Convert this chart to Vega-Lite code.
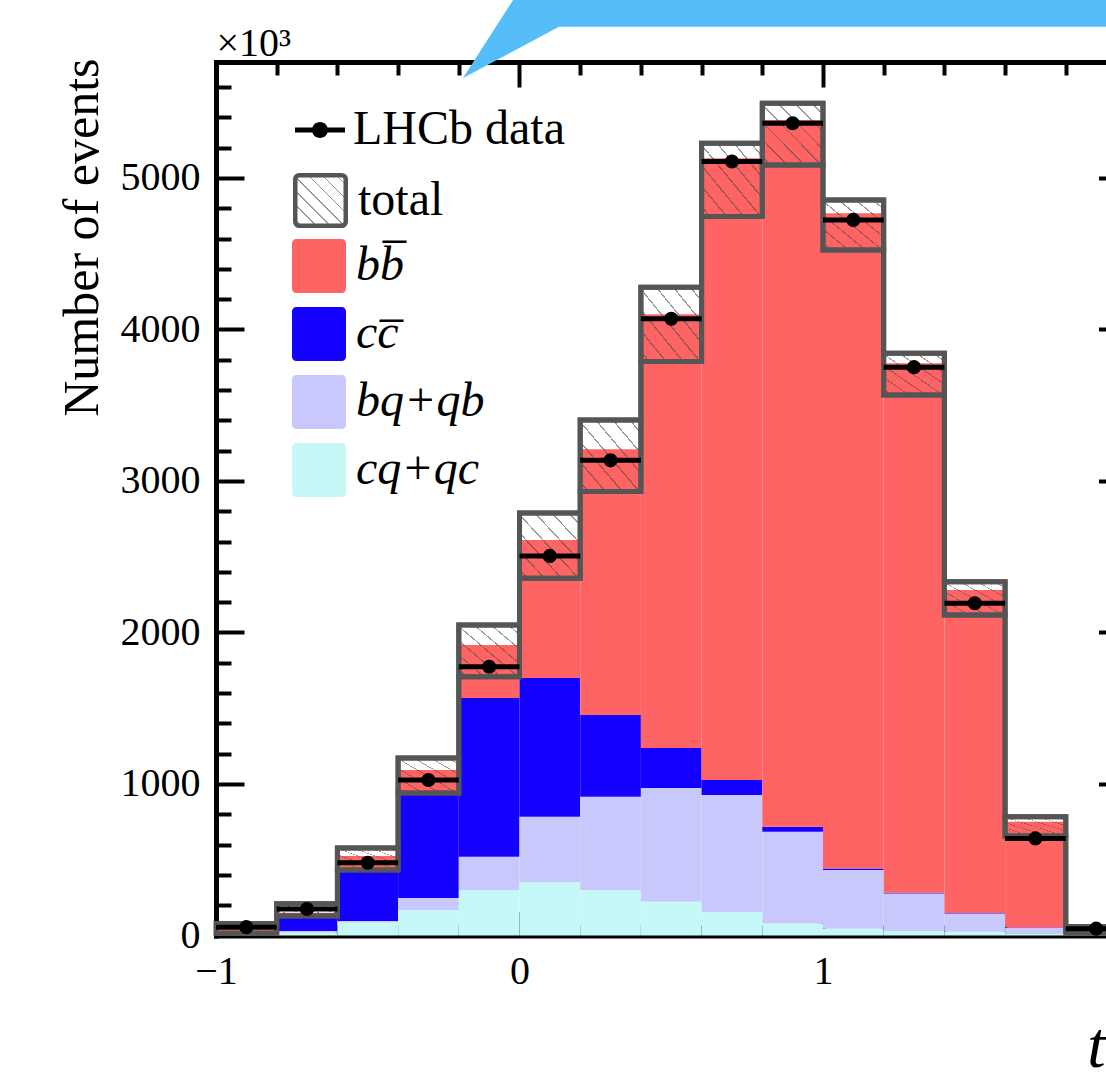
{
  "$schema": "https://vega.github.io/schema/vega-lite/v6.json",
  "autosize": {"type": "none"},
  "padding": {"left": 216, "top": 62, "right": 0, "bottom": 148.5},
  "width": 890,
  "height": 873.5,
  "background": "white",
  "datasets": {
    "components": [
      {"t_lo": -1.0, "t_hi": -0.8, "process": "cq+qc", "n": 0},
      {"t_lo": -1.0, "t_hi": -0.8, "process": "bq+qb", "n": 0},
      {"t_lo": -1.0, "t_hi": -0.8, "process": "cc\u0305", "n": 0},
      {"t_lo": -1.0, "t_hi": -0.8, "process": "bb\u0305", "n": 40},
      {"t_lo": -0.8, "t_hi": -0.6, "process": "cq+qc", "n": 20},
      {"t_lo": -0.8, "t_hi": -0.6, "process": "bq+qb", "n": 10},
      {"t_lo": -0.8, "t_hi": -0.6, "process": "cc\u0305", "n": 85},
      {"t_lo": -0.8, "t_hi": -0.6, "process": "bb\u0305", "n": 35},
      {"t_lo": -0.6, "t_hi": -0.4, "process": "cq+qc", "n": 85},
      {"t_lo": -0.6, "t_hi": -0.4, "process": "bq+qb", "n": 10},
      {"t_lo": -0.6, "t_hi": -0.4, "process": "cc\u0305", "n": 330},
      {"t_lo": -0.6, "t_hi": -0.4, "process": "bb\u0305", "n": 100},
      {"t_lo": -0.4, "t_hi": -0.2, "process": "cq+qc", "n": 168},
      {"t_lo": -0.4, "t_hi": -0.2, "process": "bq+qb", "n": 80},
      {"t_lo": -0.4, "t_hi": -0.2, "process": "cc\u0305", "n": 687},
      {"t_lo": -0.4, "t_hi": -0.2, "process": "bb\u0305", "n": 157},
      {"t_lo": -0.2, "t_hi": 0.0, "process": "cq+qc", "n": 300},
      {"t_lo": -0.2, "t_hi": 0.0, "process": "bq+qb", "n": 220},
      {"t_lo": -0.2, "t_hi": 0.0, "process": "cc\u0305", "n": 1048},
      {"t_lo": -0.2, "t_hi": 0.0, "process": "bb\u0305", "n": 349},
      {"t_lo": 0.0, "t_hi": 0.2, "process": "cq+qc", "n": 352},
      {"t_lo": 0.0, "t_hi": 0.2, "process": "bq+qb", "n": 432},
      {"t_lo": 0.0, "t_hi": 0.2, "process": "cc\u0305", "n": 916},
      {"t_lo": 0.0, "t_hi": 0.2, "process": "bb\u0305", "n": 910},
      {"t_lo": 0.2, "t_hi": 0.4, "process": "cq+qc", "n": 300},
      {"t_lo": 0.2, "t_hi": 0.4, "process": "bq+qb", "n": 615},
      {"t_lo": 0.2, "t_hi": 0.4, "process": "cc\u0305", "n": 540},
      {"t_lo": 0.2, "t_hi": 0.4, "process": "bb\u0305", "n": 1755},
      {"t_lo": 0.4, "t_hi": 0.6, "process": "cq+qc", "n": 223},
      {"t_lo": 0.4, "t_hi": 0.6, "process": "bq+qb", "n": 751},
      {"t_lo": 0.4, "t_hi": 0.6, "process": "cc\u0305", "n": 264},
      {"t_lo": 0.4, "t_hi": 0.6, "process": "bb\u0305", "n": 2862},
      {"t_lo": 0.6, "t_hi": 0.8, "process": "cq+qc", "n": 155},
      {"t_lo": 0.6, "t_hi": 0.8, "process": "bq+qb", "n": 772},
      {"t_lo": 0.6, "t_hi": 0.8, "process": "cc\u0305", "n": 99},
      {"t_lo": 0.6, "t_hi": 0.8, "process": "bb\u0305", "n": 4104},
      {"t_lo": 0.8, "t_hi": 1.0, "process": "cq+qc", "n": 80},
      {"t_lo": 0.8, "t_hi": 1.0, "process": "bq+qb", "n": 605},
      {"t_lo": 0.8, "t_hi": 1.0, "process": "cc\u0305", "n": 33},
      {"t_lo": 0.8, "t_hi": 1.0, "process": "bb\u0305", "n": 4665},
      {"t_lo": 1.0, "t_hi": 1.2, "process": "cq+qc", "n": 45},
      {"t_lo": 1.0, "t_hi": 1.2, "process": "bq+qb", "n": 387},
      {"t_lo": 1.0, "t_hi": 1.2, "process": "cc\u0305", "n": 11},
      {"t_lo": 1.0, "t_hi": 1.2, "process": "bb\u0305", "n": 4324},
      {"t_lo": 1.2, "t_hi": 1.4, "process": "cq+qc", "n": 30},
      {"t_lo": 1.2, "t_hi": 1.4, "process": "bq+qb", "n": 248},
      {"t_lo": 1.2, "t_hi": 1.4, "process": "cc\u0305", "n": 4},
      {"t_lo": 1.2, "t_hi": 1.4, "process": "bb\u0305", "n": 3495},
      {"t_lo": 1.4, "t_hi": 1.6, "process": "cq+qc", "n": 25},
      {"t_lo": 1.4, "t_hi": 1.6, "process": "bq+qb", "n": 121},
      {"t_lo": 1.4, "t_hi": 1.6, "process": "cc\u0305", "n": 2},
      {"t_lo": 1.4, "t_hi": 1.6, "process": "bb\u0305", "n": 2132},
      {"t_lo": 1.6, "t_hi": 1.8, "process": "cq+qc", "n": 15},
      {"t_lo": 1.6, "t_hi": 1.8, "process": "bq+qb", "n": 35},
      {"t_lo": 1.6, "t_hi": 1.8, "process": "cc\u0305", "n": 2},
      {"t_lo": 1.6, "t_hi": 1.8, "process": "bb\u0305", "n": 699},
      {"t_lo": 1.8, "t_hi": 2.0, "process": "cq+qc", "n": 5},
      {"t_lo": 1.8, "t_hi": 2.0, "process": "bq+qb", "n": 3},
      {"t_lo": 1.8, "t_hi": 2.0, "process": "cc\u0305", "n": 2},
      {"t_lo": 1.8, "t_hi": 2.0, "process": "bb\u0305", "n": 30}
    ],
    "bins": [
      {"t": -0.9, "t_lo": -1.0, "t_hi": -0.8, "data": 55, "band_lo": 15, "band_hi": 80},
      {"t": -0.7, "t_lo": -0.8, "t_hi": -0.6, "data": 175, "band_lo": 128, "band_hi": 210},
      {"t": -0.5, "t_lo": -0.6, "t_hi": -0.4, "data": 480, "band_lo": 433, "band_hi": 578},
      {"t": -0.3, "t_lo": -0.4, "t_hi": -0.2, "data": 1026, "band_lo": 940, "band_hi": 1172},
      {"t": -0.1, "t_lo": -0.2, "t_hi": 0.0, "data": 1774, "band_lo": 1708, "band_hi": 2049},
      {"t": 0.1, "t_lo": 0.0, "t_hi": 0.2, "data": 2505, "band_lo": 2358, "band_hi": 2788},
      {"t": 0.3, "t_lo": 0.2, "t_hi": 0.4, "data": 3136, "band_lo": 2930, "band_hi": 3403},
      {"t": 0.5, "t_lo": 0.4, "t_hi": 0.6, "data": 4070, "band_lo": 3788, "band_hi": 4278},
      {"t": 0.7, "t_lo": 0.6, "t_hi": 0.8, "data": 5108, "band_lo": 4745, "band_hi": 5229},
      {"t": 0.9, "t_lo": 0.8, "t_hi": 1.0, "data": 5361, "band_lo": 5086, "band_hi": 5493},
      {"t": 1.1, "t_lo": 1.0, "t_hi": 1.2, "data": 4723, "band_lo": 4525, "band_hi": 4855},
      {"t": 1.3, "t_lo": 1.2, "t_hi": 1.4, "data": 3751, "band_lo": 3568, "band_hi": 3843},
      {"t": 1.5, "t_lo": 1.4, "t_hi": 1.6, "data": 2193, "band_lo": 2115, "band_hi": 2335},
      {"t": 1.7, "t_lo": 1.6, "t_hi": 1.8, "data": 641, "band_lo": 657, "band_hi": 784},
      {"t": 1.9, "t_lo": 1.8, "t_hi": 2.0, "data": 45, "band_lo": 15, "band_hi": 60}
    ],
    "callout": [
      {"cx": -0.186, "lo": 5660, "hi": 5660},
      {"cx": -0.0128, "lo": 5844, "hi": 6200},
      {"cx": 0.13, "lo": 5997, "hi": 6200},
      {"cx": 2.1, "lo": 5997, "hi": 6200}
    ]
  },
  "layer": [
    {
      "data": {"name": "components"},
      "transform": [{"stack": "n", "groupby": ["t_lo"], "as": ["n0", "n1"]}],
      "mark": {"type": "rect"},
      "encoding": {
        "x": {"field": "t_lo", "type": "quantitative", "scale": {"domain": [-1, 1.9325], "nice": false, "zero": false},
          "axis": {"orient": "bottom", "values": [-1, 0, 1], "format": "d", "ticks": false, "tickSize": 0, "domain": true, "domainWidth": 5, "domainCap": "square", "labelFontSize": 40, "labelPadding": 16, "labelFlush": false, "labelOverlap": false, "labelBound": false,
            "title": "t", "titleFontStyle": "italic", "titleFontSize": 66, "titleX": 889, "titleY": 130.5, "titleAlign": "right", "titleBaseline": "alphabetic", "titleAngle": 0}},
        "x2": {"field": "t_hi"},
        "y": {"field": "n0", "type": "quantitative", "scale": {"domain": [0, 5765], "nice": false, "zero": false},
          "axis": {"orient": "left", "values": [0, 1000, 2000, 3000, 4000, 5000], "format": "d", "ticks": false, "tickSize": 0, "domain": true, "domainWidth": 5, "domainCap": "square", "labelFontSize": 40, "labelPadding": 16, "labelFlush": false, "labelOverlap": false, "labelBound": false,
            "title": "Number of events", "titleFontSize": 50, "titleAngle": -90, "titleX": -119, "titleY": -4, "titleAlign": "right", "titleBaseline": "alphabetic"}},
        "y2": {"field": "n1"},
        "fill": {"field": "process", "type": "nominal",
          "scale": {"domain": ["bb\u0305", "cc\u0305", "bq+qb", "cq+qc"], "range": ["#FE6464", "#1400FF", "#C8C8FC", "#C6F8F8"]},
          "legend": {"orient": "none", "legendX": 76, "legendY": 177, "title": null,
            "symbolType": "M-0.84,-1H0.84A0.16,0.16,0,0,1,1,-0.84V0.84A0.16,0.16,0,0,1,0.84,1H-0.84A0.16,0.16,0,0,1,-1,0.84V-0.84A0.16,0.16,0,0,1,-0.84,-1Z",
            "symbolSize": 2916, "symbolStrokeWidth": 0, "labelFontStyle": "italic", "labelFontSize": 48, "labelOffset": 10, "rowPadding": 14, "padding": 0, "labelLimit": 400}}
      }
    },
    {
      "data": {"name": "bins"},
      "mark": {"type": "rect", "strokeWidth": 5, "strokeJoin": "miter",
        "fill": {"gradient": "linear", "x1": 0, "y1": 1, "x2": 1, "y2": 0, "stops": [
          {"offset": 0, "color": "rgba(255,255,255,0)"},
          {"offset": 0.06, "color": "rgba(255,255,255,0)"}, {"offset": 0.06, "color": "rgba(70,70,70,0.55)"}, {"offset": 0.074, "color": "rgba(70,70,70,0.55)"}, {"offset": 0.074, "color": "rgba(255,255,255,0)"},
          {"offset": 0.2, "color": "rgba(255,255,255,0)"}, {"offset": 0.2, "color": "rgba(70,70,70,0.55)"}, {"offset": 0.214, "color": "rgba(70,70,70,0.55)"}, {"offset": 0.214, "color": "rgba(255,255,255,0)"},
          {"offset": 0.34, "color": "rgba(255,255,255,0)"}, {"offset": 0.34, "color": "rgba(70,70,70,0.55)"}, {"offset": 0.354, "color": "rgba(70,70,70,0.55)"}, {"offset": 0.354, "color": "rgba(255,255,255,0)"},
          {"offset": 0.48, "color": "rgba(255,255,255,0)"}, {"offset": 0.48, "color": "rgba(70,70,70,0.55)"}, {"offset": 0.494, "color": "rgba(70,70,70,0.55)"}, {"offset": 0.494, "color": "rgba(255,255,255,0)"},
          {"offset": 0.62, "color": "rgba(255,255,255,0)"}, {"offset": 0.62, "color": "rgba(70,70,70,0.55)"}, {"offset": 0.634, "color": "rgba(70,70,70,0.55)"}, {"offset": 0.634, "color": "rgba(255,255,255,0)"},
          {"offset": 0.76, "color": "rgba(255,255,255,0)"}, {"offset": 0.76, "color": "rgba(70,70,70,0.55)"}, {"offset": 0.774, "color": "rgba(70,70,70,0.55)"}, {"offset": 0.774, "color": "rgba(255,255,255,0)"},
          {"offset": 0.9, "color": "rgba(255,255,255,0)"}, {"offset": 0.9, "color": "rgba(70,70,70,0.55)"}, {"offset": 0.914, "color": "rgba(70,70,70,0.55)"}, {"offset": 0.914, "color": "rgba(255,255,255,0)"},
          {"offset": 1, "color": "rgba(255,255,255,0)"}
        ]}},
      "encoding": {
        "x": {"field": "t_lo", "type": "quantitative", "scale": {"domain": [-1, 1.9325], "nice": false, "zero": false},
          "axis": {"orient": "bottom", "values": [-1, 0, 1], "labels": false, "domain": false, "ticks": true, "tickSize": -24, "tickWidth": 4, "title": null}},
        "x2": {"field": "t_hi"},
        "y": {"field": "band_lo", "type": "quantitative", "scale": {"domain": [0, 5765], "nice": false, "zero": false},
          "axis": {"orient": "left", "values": [1000, 2000, 3000, 4000, 5000], "labels": false, "domain": false, "ticks": true, "tickSize": -28, "tickWidth": 4,
            "title": "×10³", "titleAngle": 0, "titleX": 0, "titleY": -7, "titleAlign": "left", "titleBaseline": "alphabetic", "titleFontSize": 40}},
        "y2": {"field": "band_hi"},
        "stroke": {"datum": "total", "type": "nominal", "scale": {"range": ["#555555"]},
          "legend": {"orient": "none", "legendX": 77, "legendY": 111, "title": null,
            "symbolType": "M-0.84,-1H0.84A0.16,0.16,0,0,1,1,-0.84V0.84A0.16,0.16,0,0,1,0.84,1H-0.84A0.16,0.16,0,0,1,-1,0.84V-0.84A0.16,0.16,0,0,1,-0.84,-1Z",
            "symbolSize": 2550, "symbolStrokeWidth": 4.5, "symbolFillColor": "white", "labelFontSize": 48, "labelOffset": 10, "padding": 0, "labelLimit": 400}}
      }
    },
    {
      "data": {"name": "bins"},
      "mark": {"type": "line", "interpolate": "step-after", "color": "#555555", "strokeWidth": 5, "strokeJoin": "miter"},
      "encoding": {
        "x": {"field": "t_lo", "type": "quantitative", "scale": {"domain": [-1, 1.9325], "nice": false, "zero": false},
          "axis": {"orient": "bottom", "values": [-0.8, -0.6, -0.4, -0.2, 0.2, 0.4, 0.6, 0.8, 1.2, 1.4, 1.6, 1.8], "labels": false, "domain": false, "ticks": true, "tickSize": -11, "tickWidth": 4, "title": null}},
        "y": {"field": "band_hi", "type": "quantitative", "scale": {"domain": [0, 5765], "nice": false, "zero": false},
          "axis": {"orient": "left", "values": [200, 400, 600, 800, 1200, 1400, 1600, 1800, 2200, 2400, 2600, 2800, 3200, 3400, 3600, 3800, 4200, 4400, 4600, 4800, 5200, 5400, 5600], "labels": false, "domain": false, "ticks": true, "tickSize": -15, "tickWidth": 4, "title": null}}
      }
    },
    {
      "data": {"name": "bins"},
      "mark": {"type": "line", "interpolate": "step-after", "color": "#555555", "strokeWidth": 5, "strokeJoin": "miter"},
      "encoding": {
        "x": {"field": "t_lo", "type": "quantitative", "scale": {"domain": [-1, 1.9325], "nice": false, "zero": false},
          "axis": {"orient": "top", "values": [-1, 0, 1], "labels": false, "domain": true, "domainWidth": 5, "domainCap": "square", "ticks": true, "tickSize": -25, "tickWidth": 4, "title": null}},
        "y": {"field": "band_lo", "type": "quantitative", "scale": {"domain": [0, 5765], "nice": false, "zero": false},
          "axis": {"orient": "right", "offset": 20.5, "values": [1000, 2000, 3000, 4000, 5000], "labels": false, "domain": true, "domainWidth": 5, "ticks": true, "tickSize": -28, "tickWidth": 4, "title": null}}
      }
    },
    {
      "data": {"name": "bins"},
      "mark": {"type": "rule", "color": "black", "strokeWidth": 5},
      "encoding": {
        "x": {"field": "t_lo", "type": "quantitative", "scale": {"domain": [-1, 1.9325], "nice": false, "zero": false},
          "axis": {"orient": "top", "values": [-0.8, -0.6, -0.4, -0.2, 0.2, 0.4, 0.6, 0.8, 1.2, 1.4, 1.6, 1.8], "labels": false, "domain": false, "ticks": true, "tickSize": -13, "tickWidth": 4, "title": null}},
        "x2": {"field": "t_hi"},
        "y": {"field": "data", "type": "quantitative", "scale": {"domain": [0, 5765], "nice": false, "zero": false}, "axis": null}
      }
    },
    {
      "data": {"name": "bins"},
      "mark": {"type": "point", "filled": true, "shape": "circle", "size": 200, "color": "black"},
      "encoding": {
        "x": {"field": "t", "type": "quantitative", "scale": {"domain": [-1, 1.9325], "nice": false, "zero": false}, "axis": null},
        "y": {"field": "data", "type": "quantitative", "scale": {"domain": [0, 5765], "nice": false, "zero": false}, "axis": null},
        "opacity": {"datum": "LHCb data", "type": "nominal", "scale": {"range": [1]},
          "legend": {"orient": "none", "legendX": 79, "legendY": 43, "title": null,
            "symbolType": "M-1,-0.1H1V0.1H-1Z M0.32,0A0.32,0.32,0,1,1,-0.32,0A0.32,0.32,0,1,1,0.32,0Z",
            "symbolSize": 2500, "symbolFillColor": "black", "symbolStrokeWidth": 0, "labelFontSize": 48, "labelOffset": 8, "padding": 0, "labelLimit": 400}}
      }
    },
    {
      "data": {"name": "callout"},
      "mark": {"type": "area", "color": "#55BEF9", "interpolate": "linear"},
      "encoding": {
        "x": {"field": "cx", "type": "quantitative", "scale": {"domain": [-1, 1.9325], "nice": false, "zero": false}, "axis": null},
        "y": {"field": "lo", "type": "quantitative", "scale": {"domain": [0, 5765], "nice": false, "zero": false}, "axis": null},
        "y2": {"field": "hi"}
      }
    }
  ],
  "resolve": {"axis": {"x": "independent", "y": "independent"}},
  "config": {
    "font": "Liberation Serif",
    "view": {"stroke": null},
    "axis": {"labelFont": "Liberation Serif", "titleFont": "Liberation Serif", "labelColor": "black", "titleColor": "black", "tickColor": "black", "domainColor": "black", "grid": false, "zindex": 1, "titleFontWeight": "normal", "labelFontWeight": "normal", "tickCap": "butt"},
    "legend": {"labelFont": "Liberation Serif", "labelColor": "black", "labelFontSize": 48, "padding": 0}
  }
}
